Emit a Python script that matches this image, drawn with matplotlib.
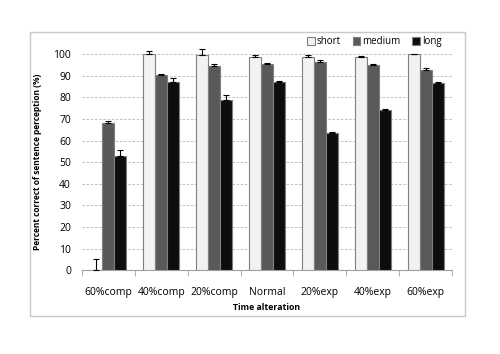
import numpy as np
import matplotlib.pyplot as plt
from matplotlib.patches import Rectangle

# ---------- Data ----------
categories = ["60%comp", "40%comp", "20%comp", "Normal", "20%exp", "40%exp", "60%exp"]
short = [0, 100, 99.7, 98.7, 98.8, 98.8, 100]
medium = [68, 90.3, 94.5, 95.5, 96.3, 95, 92.8]
long_ = [53, 87, 79, 87.3, 63.3, 74, 86.5]
short_err = [5, 1.5, 2.5, 1, 1, 0.2, 0.2]
medium_err = [1, 0.3, 1, 0.3, 1, 0.5, 1]
long_err = [2.5, 2, 2, 0.3, 0.5, 0.5, 0.7]

series = [("short", short, short_err, "#f2f2f2"),
          ("medium", medium, medium_err, "#595959"),
          ("long", long_, long_err, "#0d0d0d")]

# ---------- Plot ----------
plt.rcParams['font.family'] = ['Open Sans', 'DejaVu Sans']
fig = plt.figure(figsize=(5.0, 3.54), dpi=100)
fig.patches.append(Rectangle((30 / 500, 1 - 316 / 354), 435 / 500, 284 / 354,
                             transform=fig.transFigure, fill=False,
                             edgecolor="#c8c8c8", lw=1))
ax = fig.add_axes([0.164, 0.237, 0.74, 0.61])

x = np.arange(len(categories))
w = 0.227
for i, (name, vals, errs, col) in enumerate(series):
    pos = x + (i - 1) * w
    ax.bar(pos, vals, w, color=col, edgecolor="#7f7f7f", lw=0.8, label=name, zorder=3)
    eb = ax.errorbar(pos, vals, yerr=[np.zeros(len(vals)), errs], fmt="none",
                     ecolor="black", elinewidth=0.8, capsize=2, capthick=0.8, zorder=4)
    for part in eb.lines:
        for art in (part if isinstance(part, tuple) else [part]):
            if art is not None:
                art.set_clip_on(False)

ax.set_xlim(-0.5, len(categories) - 0.5)
ax.set_ylim(0, 100)
ax.set_yticks(np.arange(0, 101, 10))
ax.yaxis.grid(True, linestyle=(0, (3, 2)), color="#b4b4b4", lw=0.6, zorder=0)
ax.set_xticks(x)
ax.set_xticklabels(categories)
ax.set_xticks(np.arange(-0.5, len(categories), 1), minor=True)
ax.tick_params(axis="x", which="major", length=0, pad=12, labelsize=7.5)
ax.tick_params(axis="x", which="minor", length=4, color="#a0a0a0", direction="out")
ax.tick_params(axis="y", length=0, labelsize=7.5, pad=8)
for s in ["top", "right", "left"]:
    ax.spines[s].set_visible(False)
ax.spines["bottom"].set_color("#a0a0a0")

ax.set_xlabel("Time alteration", fontsize=6.3, fontweight="bold", labelpad=4)
ax.set_ylabel("Percent correct of sentence perception (%)", fontsize=6,
              fontweight="bold", labelpad=8)

ax.legend(loc="lower right", bbox_to_anchor=(0.99, 1.0), ncol=3, frameon=False,
          fontsize=7, handlelength=0.8, handleheight=0.8, handletextpad=0.2,
          columnspacing=1.2, borderaxespad=0.3)

fig.savefig("out.png", dpi=100)
